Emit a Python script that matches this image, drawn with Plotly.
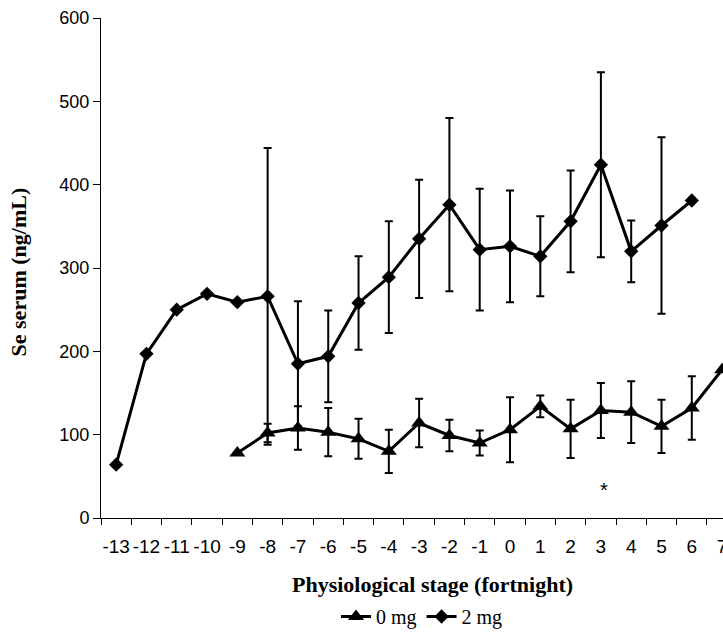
import plotly.graph_objects as go

stages = list(range(-13, 8))
tick_labels = [str(s) for s in stages]

# 0 mg series (triangles)
x0 = [-9, -8, -7, -6, -5, -4, -3, -2, -1, 0, 1, 2, 3, 4, 5, 6, 7]
y0 = [78, 102, 108, 103, 95, 80, 114, 99, 90, 106, 134, 107, 129, 127, 110, 132, 178]
e0 = [None, 11, 26, 29, 24, 26, 29, 19, 15, 39, 13, 35, 33, 37, 32, 38, None]

# 2 mg series (diamonds)
x2 = [-13, -12, -11, -10, -9, -8, -7, -6, -5, -4, -3, -2, -1, 0, 1, 2, 3, 4, 5, 6]
y2 = [64, 197, 250, 269, 259, 266, 185, 194, 258, 289, 335, 376, 322, 326, 314, 356, 424, 320, 351, 381]
e2 = [None, None, None, None, None, 178, 75, 55, 56, 67, 71, 104, 73, 67, 48, 61, 111, 37, 106, None]

W, H = 723, 636
L, R, T, B = 101, 0, 18, 111

fig = go.Figure()
fig.add_trace(go.Scatter(
    x=x0, y=y0, name="0 mg", mode="lines+markers",
    line=dict(color="black", width=3),
    marker=dict(symbol="triangle-up", size=14, color="black"),
    error_y=dict(type="data", array=e0, visible=True, color="black", thickness=2, width=4),
))
fig.add_trace(go.Scatter(
    x=x2, y=y2, name="2 mg", mode="lines+markers",
    line=dict(color="black", width=3),
    marker=dict(symbol="diamond", size=11, color="black"),
    error_y=dict(type="data", array=e2, visible=True, color="black", thickness=2, width=4),
))

def px_x(p):
    return (p - L) / (W - L - R)

def px_y(p):
    return (H - B - p) / (H - T - B)

fig.add_annotation(text="Physiological stage (fortnight)", xref="paper", yref="paper",
                   x=px_x(432), y=px_y(592), showarrow=False, xanchor="center", yanchor="middle",
                   font=dict(family="Liberation Serif", size=22, color="black", weight="bold"))
fig.add_annotation(text="Se serum (ng/mL)", xref="paper", yref="paper",
                   x=px_x(18), y=px_y(276), showarrow=False, textangle=-90,
                   xanchor="center", yanchor="middle",
                   font=dict(family="Liberation Serif", size=22, color="black", weight="bold"))
fig.add_annotation(text="*", x=3.1, y=34, showarrow=False, xanchor="center", yanchor="middle",
                   font=dict(family="Liberation Sans", size=20, color="black"))

fig.update_layout(
    width=W, height=H,
    margin=dict(l=L, r=R, t=T, b=B),
    paper_bgcolor="white", plot_bgcolor="white",
    showlegend=True,
    legend=dict(orientation="h", x=px_x(422), y=px_y(625), xanchor="center", yanchor="middle",
                font=dict(family="Liberation Serif", size=20, color="black"),
                bgcolor="rgba(0,0,0,0)", itemwidth=30, tracegroupgap=0),
    font=dict(family="Liberation Sans", color="black"),
)
fig.update_xaxes(
    range=[-13.5, 7.03], tickmode="array", tickvals=stages, ticktext=tick_labels,
    ticks="outside", ticklen=11, tickcolor="rgba(0,0,0,0)", ticklabeloverflow="allow",
    tickangle=0, automargin=False,
    showline=True, linecolor="black", linewidth=1, showgrid=False, zeroline=False,
    tickfont=dict(family="Liberation Sans", size=19, color="black"),
    minor=dict(tickmode="linear", tick0=-13.5, dtick=1, ticks="outside", ticklen=6,
               tickcolor="black", tickwidth=1, showgrid=False),
)
fig.update_yaxes(
    range=[0, 600], tickmode="array", tickvals=[0, 100, 200, 300, 400, 500, 600],
    ticks="outside", ticklen=7, tickcolor="black", showline=True, linecolor="black", linewidth=1,
    showgrid=False, zeroline=False, automargin=False,
    tickfont=dict(family="Liberation Sans", size=18, color="black"),
)

fig.write_html("out.html")
